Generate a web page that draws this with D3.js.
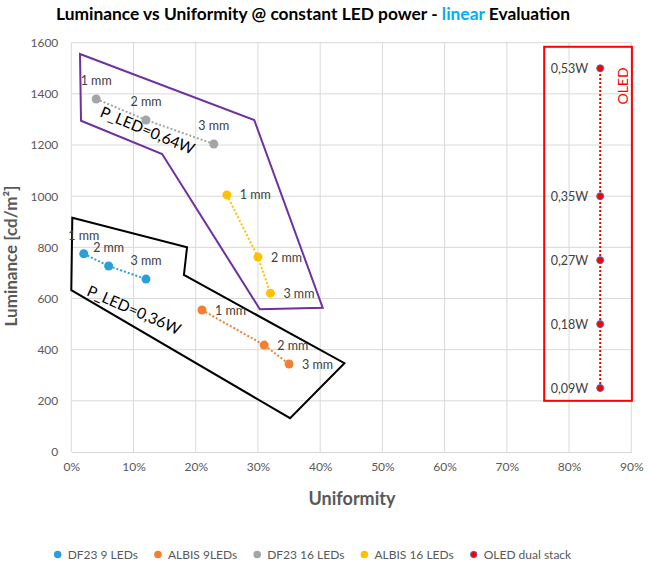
<!doctype html>
<html lang="en">
<head>
    <meta charset="utf-8"/>
    <title>Luminance vs Uniformity</title>
    <script src="https://d3js.org/d3.v7.min.js"></script>
    <style>
        body { margin: 0; background: #fff; }
        text { font-family: Lato, "Open Sans", sans-serif; }
    </style>
</head>
<body>
<div id="chart"></div>

<script>
    // data
    let gapLabels = ["1 mm", "2 mm", "3 mm"];

    let df23_9 = [[0.020, 775], [0.060, 727], [0.120, 676]];
    let albis_9 = [[0.210, 555], [0.310, 418], [0.350, 344]];
    let df23_16 = [[0.040, 1380], [0.120, 1298], [0.229, 1204]];
    let albis_16 = [[0.250, 1005], [0.300, 762], [0.320, 621]];

    let oledX = 0.85;
    let oledY = [1500, 1000, 750, 500, 250];
    let oledLabels = ["0,53W", "0,35W", "0,27W", "0,18W", "0,09W"];

    // hand drawn shapes on the chart (data coords)
    let purpleShape = [[0.014, 1556], [0.0156, 1295], [0.146, 1165], [0.303, 558], [0.404, 564], [0.294, 1298]];
    let blackShape = [[0.0016, 916], [0.186, 800], [0.181, 692], [0.439, 347], [0.3516, 132], [0.0, 633]];
    let oledBox = [[0.76, 1584], [0.901, 200]];

    let xTicks = [0, 0.1, 0.2, 0.3, 0.4, 0.5, 0.6, 0.7, 0.8, 0.9];
    let yTicks = [0, 200, 400, 600, 800, 1000, 1200, 1400, 1600];

    let width = 651,
        height = 562;

    let svg = d3.select("#chart").append("svg")
        .attr("width", width)
        .attr("height", height);

    let x = d3.scaleLinear().domain([0, 0.9]).range([71.3, 631.3]);
    let y = d3.scaleLinear().domain([0, 1600]).range([452, 42.7]);

    // title
    let title = svg.append("text")
        .attr("x", 313)
        .attr("y", 20)
        .attr("text-anchor", "middle")
        .attr("font-size", 17)
        .attr("font-weight", "bold")
        .attr("fill", "#000")
        .attr("textLength", 514)
        .attr("lengthAdjust", "spacingAndGlyphs");
    title.append("tspan").text("Luminance vs Uniformity @ constant LED power - ");
    title.append("tspan").attr("fill", "#00B0F0").text("linear");
    title.append("tspan").text(" Evaluation");

    // grid
    let grid = svg.append("g");
    grid.selectAll("line.h")
        .data(yTicks.slice(1))
        .enter()
        .append("line")
        .attr("x1", x(0)).attr("x2", x(0.9))
        .attr("y1", d => y(d)).attr("y2", d => y(d))
        .attr("stroke", "#D9D9D9");
    grid.selectAll("line.v")
        .data(xTicks)
        .enter()
        .append("line")
        .attr("x1", d => x(d)).attr("x2", d => x(d))
        .attr("y1", y(0)).attr("y2", y(1600))
        .attr("stroke", "#D9D9D9");

    // axes
    let xAxis = svg.append("g")
        .attr("transform", "translate(0," + y(0) + ")")
        .call(d3.axisBottom(x).tickValues(xTicks).tickFormat(d3.format(".0%")).tickSize(0).tickPadding(10));
    xAxis.select(".domain").attr("stroke", "#D9D9D9");

    let yAxis = svg.append("g")
        .attr("transform", "translate(" + x(0) + ",0)")
        .call(d3.axisLeft(y).tickValues(yTicks).tickFormat(d3.format("d")).tickSize(0).tickPadding(13));
    yAxis.select(".domain").remove();

    svg.selectAll(".tick text")
        .attr("font-family", "Lato, sans-serif")
        .attr("font-size", 12)
        .attr("fill", "#595959");

    svg.append("text")
        .attr("x", 352)
        .attr("y", 505)
        .attr("text-anchor", "middle")
        .attr("font-size", 18)
        .attr("font-weight", "bold")
        .attr("fill", "#595959")
        .text("Uniformity");

    svg.append("text")
        .attr("transform", "translate(17,256) rotate(-90)")
        .attr("text-anchor", "middle")
        .attr("font-size", 17)
        .attr("font-weight", "bold")
        .attr("fill", "#595959")
        .text("Luminance [cd/m²]");

    // shapes
    let line = d3.line().x(d => x(d[0])).y(d => y(d[1]));

    svg.append("path")
        .attr("d", line(purpleShape) + "Z")
        .attr("fill", "none")
        .attr("stroke", "#7030A0")
        .attr("stroke-width", 2);

    svg.append("path")
        .attr("d", line(blackShape) + "Z")
        .attr("fill", "none")
        .attr("stroke", "#000")
        .attr("stroke-width", 2);

    svg.append("rect")
        .attr("x", x(oledBox[0][0]))
        .attr("y", y(oledBox[0][1]))
        .attr("width", x(oledBox[1][0]) - x(oledBox[0][0]))
        .attr("height", y(oledBox[1][1]) - y(oledBox[0][1]))
        .attr("fill", "none")
        .attr("stroke", "#FF0000")
        .attr("stroke-width", 2);

    svg.append("text")
        .attr("transform", "translate(628,86) rotate(-90)")
        .attr("text-anchor", "middle")
        .attr("font-size", 14)
        .attr("fill", "#FF0000")
        .text("OLED");

    svg.append("text")
        .attr("transform", "translate(" + x(0.1225) + "," + y(1257) + ") rotate(22.5)")
        .attr("text-anchor", "middle")
        .attr("dy", "0.35em")
        .attr("font-size", 15.5)
        .attr("fill", "#000")
        .text("P_LED=0,64W");

    svg.append("text")
        .attr("transform", "translate(" + x(0.1008) + "," + y(555) + ") rotate(23.5)")
        .attr("text-anchor", "middle")
        .attr("dy", "0.35em")
        .attr("font-size", 15.5)
        .attr("fill", "#000")
        .text("P_LED=0,36W");

    // series
    let series = [
        {name: "DF23 9 LEDs", color: "#2A9FD8", data: df23_9, labelPos: "above"},
        {name: "ALBIS 9LEDs", color: "#F47F30", data: albis_9, labelPos: "right"},
        {name: "DF23 16 LEDs", color: "#A5A5A5", data: df23_16, labelPos: "above"},
        {name: "ALBIS 16 LEDs", color: "#FFC000", data: albis_16, labelPos: "right"}
    ];

    series.forEach(function (s) {
        let g = svg.append("g");
        g.append("path")
            .attr("d", line(s.data))
            .attr("fill", "none")
            .attr("stroke", s.color)
            .attr("stroke-width", 2)
            .attr("stroke-dasharray", "2,2");
        g.selectAll("circle")
            .data(s.data)
            .enter()
            .append("circle")
            .attr("cx", d => x(d[0]))
            .attr("cy", d => y(d[1]))
            .attr("r", 4.5)
            .attr("fill", s.color);
        g.selectAll("text")
            .data(s.data)
            .enter()
            .append("text")
            .attr("x", d => s.labelPos == "above" ? x(d[0]) : x(d[0]) + 13)
            .attr("y", d => s.labelPos == "above" ? y(d[1]) - 14 : y(d[1]) + 4.5)
            .attr("text-anchor", s.labelPos == "above" ? "middle" : "start")
            .attr("font-size", 12.5)
            .attr("fill", "#404040")
            .text((d, i) => gapLabels[i]);
    });

    // OLED series
    let oled = svg.append("g");
    oled.append("line")
        .attr("x1", x(oledX)).attr("x2", x(oledX))
        .attr("y1", y(d3.min(oledY))).attr("y2", y(d3.max(oledY)))
        .attr("stroke", "#FF0000")
        .attr("stroke-width", 2)
        .attr("stroke-dasharray", "2,2");
    oled.selectAll("circle")
        .data(oledY)
        .enter()
        .append("circle")
        .attr("cx", x(oledX))
        .attr("cy", d => y(d))
        .attr("r", 3.5)
        .attr("fill", "#FF0000")
        .attr("stroke", "#4472C4")
        .attr("stroke-width", 1);
    oled.selectAll("text")
        .data(oledY)
        .enter()
        .append("text")
        .attr("x", x(oledX) - 12)
        .attr("y", d => y(d) + 4.5)
        .attr("text-anchor", "end")
        .attr("font-size", 12.5)
        .attr("fill", "#404040")
        .text((d, i) => oledLabels[i]);

    // legend
    let legendItems = series.map(s => ({name: s.name, color: s.color, stroke: null}))
        .concat([{name: "OLED dual stack", color: "#FF0000", stroke: "#4472C4"}]);

    let legend = svg.append("g");
    let lx = 57.7;
    legendItems.forEach(function (d) {
        legend.append("circle")
            .attr("cx", lx)
            .attr("cy", 554.5)
            .attr("r", d.stroke ? 3.2 : 3.8)
            .attr("fill", d.color)
            .attr("stroke", d.stroke)
            .attr("stroke-width", d.stroke ? 1 : 0);
        let t = legend.append("text")
            .attr("x", lx + 10)
            .attr("y", 559)
            .attr("font-size", 12)
            .attr("fill", "#595959")
            .text(d.name);
        lx = lx + 10 + t.node().getComputedTextLength() + 20;
    });
</script>
</body>
</html>
